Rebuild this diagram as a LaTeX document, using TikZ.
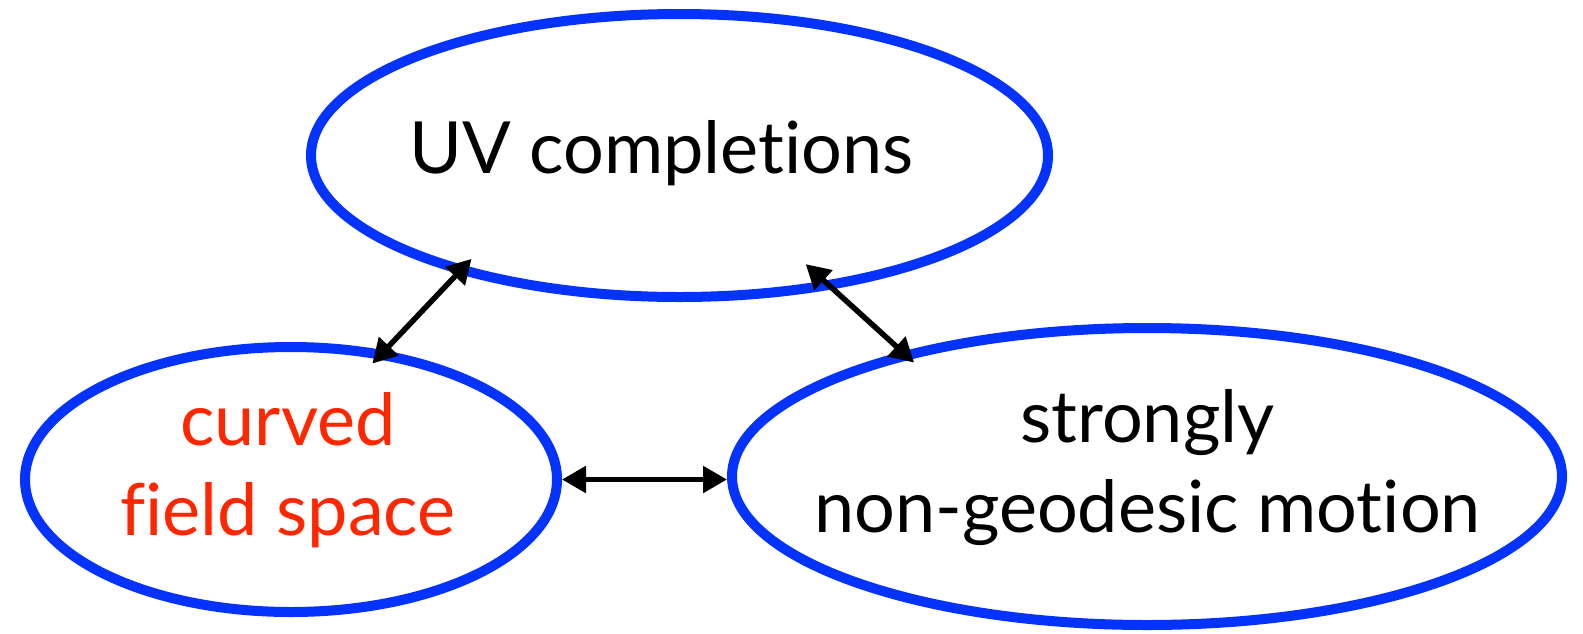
\documentclass[tikz,border=0pt]{standalone}
\usepackage{fontspec}
\setmainfont{Lato}[Ligatures={NoCommon}]
\usetikzlibrary{shapes.geometric,arrows.meta}
\definecolor{kblue}{RGB}{4,51,255}
\definecolor{kred}{RGB}{255,38,0}
\begin{document}
\begin{tikzpicture}[x=1pt,y=-1pt,
  bubble/.style={ellipse,draw=kblue,line width=10pt,inner sep=0pt},
  txt/.style={font=\fontsize{72}{90}\selectfont,inner sep=0pt,align=center},
  link/.style={{Triangle[length=24pt,width=26pt]}-{Triangle[length=24pt,width=26pt]},line width=5.5pt,draw=black}]
\useasboundingbox (0,0) rectangle (1583,633);
\node[bubble,minimum width=737pt,minimum height=283pt] (uv) at (679.5,155.5) {};
\node[bubble,minimum width=532pt,minimum height=265pt] (cfs) at (291,479.5) {};
\node[bubble,minimum width=830pt,minimum height=297pt] (ngm) at (1147,476.5) {};
\node[txt,anchor=base] (uvt) at (661.5,173) {UV completions};
\node[txt,anchor=base,text=kred] (cfst) at (288,535) {curved\\field space};
\node[txt,anchor=base] (ngmt) at (1147.5,532) {strongly\\non-geodesic motion};
\draw[link,shorten <=-18pt,shorten >=-20pt] (cfs.54.06) -- (uv.208.4);
\draw[link,shorten <=-37pt,shorten >=-16pt] (uv.319.4) -- (ngm.153.8);
\draw[link] (cfs.east) -- (cfs.east -| ngm.west);
\end{tikzpicture}
\end{document}
